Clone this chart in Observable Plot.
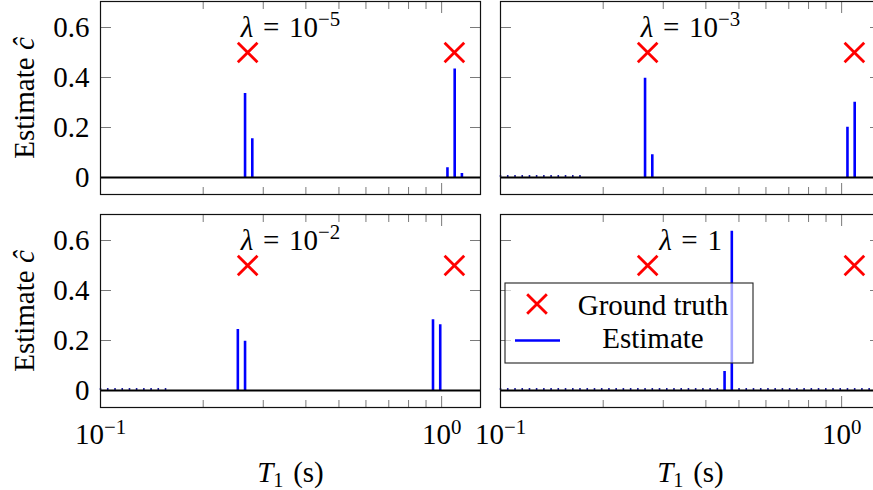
<!DOCTYPE html>
<html><head><meta charset="utf-8">
<script src="https://cdn.jsdelivr.net/npm/d3@7"></script>
<script src="https://cdn.jsdelivr.net/npm/@observablehq/plot@0.6"></script>
<style>
html,body{margin:0;padding:0;background:#fff;overflow:hidden;width:873px;height:490px;}
#chart{position:relative;width:880px;height:490px;}
</style></head><body><div id="chart"></div>
<script>
// ---- data ----
const panelTitles = ["{i:λ}\u2004=\u200410{sup:−5}", "{i:λ}\u2004=\u200410{sup:−3}", "{i:λ}\u2004=\u200410{sup:−2}", "{i:λ}\u2004=\u20041"];
const panelCol = [0, 1, 0, 1];
const panelRow = [0, 0, 1, 1];
const T1grid = [0.1000, 0.1050, 0.1103, 0.1158, 0.1216, 0.1276, 0.1340, 0.1407, 0.1477, 0.1551,
  0.1629, 0.1710, 0.1796, 0.1886, 0.1980, 0.2079, 0.2183, 0.2292, 0.2407, 0.2527,
  0.2653, 0.2786, 0.2925, 0.3072, 0.3225, 0.3386, 0.3556, 0.3733, 0.3920, 0.4116,
  0.4322, 0.4538, 0.4765, 0.5003, 0.5253, 0.5516, 0.5792, 0.6081, 0.6385, 0.6705,
  0.7040, 0.7392, 0.7762, 0.8150, 0.8557, 0.8985, 0.9434, 0.9906, 1.0401, 1.0921,
  1.1467, 1.2041, 1.2643];
const peakIdx = [[20, 21, 48, 49, 50], [20, 21, 48, 49], [19, 20, 46, 47], [31, 32]];
const peakC = [[0.336, 0.155, 0.039, 0.434, 0.016], [0.397, 0.091, 0.201, 0.301], [0.244, 0.197, 0.283, 0.263], [0.076, 0.637]];
const residualIdx = [
  [],
  [0, 1, 2, 3, 4, 5, 6, 7, 8, 9, 10, 11],
  [0, 1, 2, 3, 4, 5, 6, 7, 8, 9],
  [0, 1, 2, 3, 4, 5, 6, 7, 8, 9, 10, 11, 12, 13, 14, 15, 16, 17, 18, 19, 20, 21, 22, 23, 24, 25, 26, 27, 28, 29, 30,
   33, 34, 35, 36, 37, 38, 39, 40, 41, 42, 43, 44, 45, 46, 47, 48, 49, 50, 51, 52]
];
const residualC = 0.008;
const truthT = [0.27, 1.09];
const truthC = [0.5, 0.5];
const yTicks = [0, 0.2, 0.4, 0.6];
const xMajor = [0.1, 1];
const xMinor = [0.2, 0.3, 0.4, 0.5, 0.6, 0.7, 0.8, 0.9];
const xTickLabels = ["10{sup:−1}", "10{sup:0}"];
const yLabel = "Estimate {i:ĉ}";
const xLabel = "{i:T}{sub:1}\u2004(s)";
const legendLabels = ["Ground truth", "Estimate"];

// ---- tables ----
const stems = [], resid = [], titles = [];
for (let p = 0; p < 4; p++) {
  peakIdx[p].forEach((k, j) => stems.push({col: panelCol[p], row: panelRow[p], T: T1grid[k], c: peakC[p][j]}));
  residualIdx[p].forEach(k => resid.push({col: panelCol[p], row: panelRow[p], T: T1grid[k], c: residualC}));
  titles.push({col: panelCol[p], row: panelRow[p], label: panelTitles[p], y: 0.6});
}
const truth = truthT.map((T, i) => ({T, c: truthC[i]}));
const yLabels = [0, 1].map(r => ({col: 0, row: r, label: yLabel}));
const xLabels = [0, 1].map(c => ({col: c, row: 1, label: xLabel}));

const fs = 29;
const gray = "#7a7a7a";
const blue = "#0000ff";
const red = "#ff0000";
const tickOpts = {fill: "none", label: null, facetAnchor: null, stroke: gray, strokeWidth: 1};

const plot = Plot.plot({
  width: 880, height: 490,
  marginLeft: 100, marginRight: 0, marginTop: 1, marginBottom: 83,
  style: {fontFamily: "'Liberation Serif', 'DejaVu Serif', serif", fontSize: fs + "px", background: "white", color: "black"},
  fx: {domain: [0, 1], axis: null, paddingInner: 0.05, paddingOuter: 0},
  fy: {domain: [0, 1], axis: null, paddingInner: 20 / 213, paddingOuter: 0},
  x: {type: "log", domain: [0.1, 1.3]},
  y: {domain: [-0.068, 0.704]},
  marks: [
    Plot.axisY({...tickOpts, ticks: yTicks, anchor: "left", tickSize: 11, dx: 11}),
    Plot.axisY({...tickOpts, ticks: yTicks, anchor: "right", tickSize: 11, dx: -11}),
    Plot.axisX({...tickOpts, ticks: xMajor, anchor: "bottom", tickSize: 11, dy: -11}),
    Plot.axisX({...tickOpts, ticks: xMinor, anchor: "bottom", tickSize: 7, dy: -7}),
    Plot.axisX({...tickOpts, ticks: xMajor, anchor: "top", tickSize: 11, dy: 11}),
    Plot.axisX({...tickOpts, ticks: xMinor, anchor: "top", tickSize: 7, dy: 7}),
    Plot.ruleX(resid, {x: "T", y1: 0, y2: "c", fx: "col", fy: "row", stroke: "#1a1aa0", strokeWidth: 1.6}),
    Plot.ruleX(stems, {x: "T", y1: 0, y2: "c", fx: "col", fy: "row", stroke: blue, strokeWidth: 2.6}),
    Plot.ruleY([0], {stroke: "black", strokeWidth: 1.8}),
    Plot.dot(truth, {x: "T", y: "c", symbol: "times", r: 9, stroke: red, strokeWidth: 2.8}),
    Plot.text(titles, {fx: "col", fy: "row", y: "y", text: "label", frameAnchor: "middle", fontSize: fs}),
    Plot.frame({stroke: "#111", strokeWidth: 1.2}),
    Plot.axisY({ticks: yTicks, anchor: "left", tickSize: 0, tickPadding: 11, fontSize: fs,
      tickFormat: d => d === 0 ? "0" : d.toFixed(1), label: null}),
    Plot.axisX({ticks: xMajor, anchor: "bottom", tickSize: 0, tickPadding: 16, fontSize: fs,
      tickFormat: d => xTickLabels[xMajor.indexOf(d)], label: null}),
    Plot.text(yLabels, {fx: "col", fy: "row", text: "label", frameAnchor: "left", rotate: -90,
      lineAnchor: "top", textAnchor: "middle", dx: -87, fontSize: fs}),
    Plot.text(xLabels, {fx: "col", fy: "row", text: "label", frameAnchor: "bottom",
      lineAnchor: "bottom", textAnchor: "middle", dy: 74, fontSize: fs})
  ]
});

document.getElementById("chart").appendChild(plot);

// ---- rich text (italic / superscript / subscript) ----
function richify(el) {
  const s = el.textContent;
  if (!s.includes("{")) return;
  const re = /\{(i|sup|sub):([^}]*)\}/g;
  const parts = []; let last = 0, m;
  while ((m = re.exec(s))) {
    if (m.index > last) parts.push(["n", s.slice(last, m.index)]);
    parts.push([m[1], m[2]]);
    last = re.lastIndex;
  }
  if (last < s.length) parts.push(["n", s.slice(last)]);
  while (el.firstChild) el.removeChild(el.firstChild);
  el.style.whiteSpace = "pre";
  let cur = 0;
  for (const [kind, txt] of parts) {
    const t = document.createElementNS("http://www.w3.org/2000/svg", "tspan");
    t.textContent = txt;
    let target = 0;
    if (kind === "i") t.setAttribute("font-style", "italic");
    if (kind === "sup") { target = -0.36 * fs; t.setAttribute("font-size", 0.72 * fs); }
    if (kind === "sub") { target = 0.2 * fs; t.setAttribute("font-size", 0.7 * fs); }
    if (target !== cur) { t.setAttribute("dy", target - cur); cur = target; }
    el.appendChild(t);
  }
}
plot.querySelectorAll("text").forEach(richify);

// ---- legend ----
const svg = d3.select(plot);
const lg = svg.append("g").attr("font-size", fs);
lg.append("rect").attr("x", 505).attr("y", 283).attr("width", 248).attr("height", 80)
  .attr("fill", "white").attr("fill-opacity", 0.65).attr("stroke", "#222").attr("stroke-width", 1.1);
lg.append("path").attr("d", d3.symbol(d3.symbolTimes, Math.PI * 81)())
  .attr("transform", "translate(537,304)").attr("fill", "none").attr("stroke", red).attr("stroke-width", 2.8);
lg.append("line").attr("x1", 515).attr("x2", 560).attr("y1", 340.5).attr("y2", 340.5)
  .attr("stroke", blue).attr("stroke-width", 2.6);
lg.append("text").attr("x", 653).attr("y", 315).attr("text-anchor", "middle").text(legendLabels[0]);
lg.append("text").attr("x", 653).attr("y", 348).attr("text-anchor", "middle").text(legendLabels[1]);
</script></body></html>
